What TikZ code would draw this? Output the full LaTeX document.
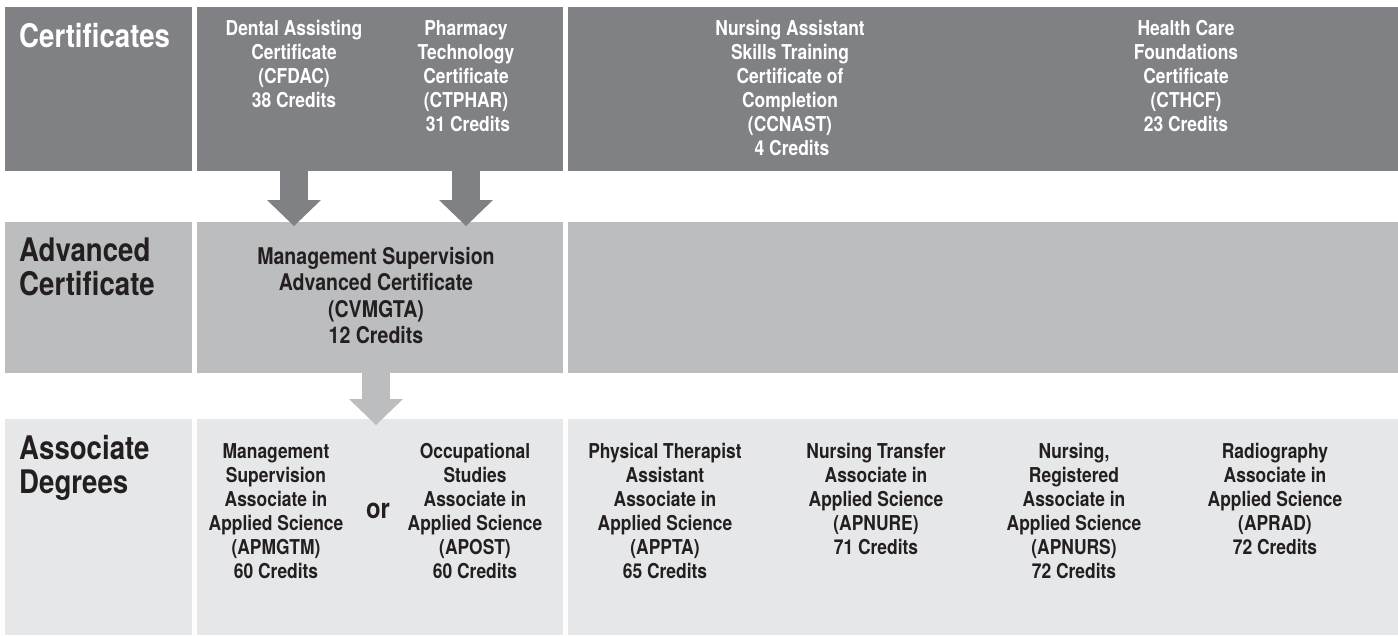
\documentclass[tikz,border=0pt]{standalone}
\usepackage{fontspec}
\setmainfont{TeX Gyre Heros}[FakeStretch=0.85]
\usetikzlibrary{arrows.meta,calc}
\definecolor{dark}{RGB}{128,129,133}
\definecolor{mid}{RGB}{188,189,191}
\definecolor{light}{RGB}{230,231,232}
\definecolor{ink}{RGB}{35,31,32}
\begin{document}
\begin{tikzpicture}[x=1pt,y=-1pt,
  box/.style={rectangle, inner sep=0pt, outer sep=0pt, draw=none},
  hdr/.style={anchor=north west, inner sep=0pt, align=left, font=\bfseries\fontsize{32.5}{34}\selectfont},
  txt/.style={anchor=north, inner sep=0pt, align=center, font=\bfseries\fontsize{20.5}{24}\selectfont},
  advtxt/.style={anchor=north, inner sep=0pt, align=center, font=\bfseries\fontsize{23}{26.5}\selectfont},
  barrow/.style={line width=28pt, -{Triangle[width=54pt,length=26pt,line width=0pt]}},
]
\useasboundingbox (0,0) rectangle (1398,635);
\fill[white] (0,0) rectangle (1398,635);
% row 1
\node[box, fill=dark, minimum width=187pt, minimum height=164pt] (c1) at (98.5,89) {};
\node[box, fill=dark, minimum width=366pt, minimum height=164pt] (c2) at (380,89) {};
\node[box, fill=dark, minimum width=830pt, minimum height=164pt] (c3) at (983,89) {};
% row 2
\node[box, fill=mid, minimum width=187pt, minimum height=151pt] (a1) at (98.5,297.5) {};
\node[box, fill=mid, minimum width=366pt, minimum height=151pt] (a2) at (380,297.5) {};
\node[box, fill=mid, minimum width=830pt, minimum height=151pt] (a3) at (983,297.5) {};
% row 3
\node[box, fill=light, minimum width=187pt, minimum height=216pt] (b1) at (98.5,527) {};
\node[box, fill=light, minimum width=366pt, minimum height=216pt] (b2) at (380,527) {};
\node[box, fill=light, minimum width=830pt, minimum height=216pt] (b3) at (983,527) {};
% texts row 1
\node[hdr, white] (hcert) at (19,23) {Certificates};
\node[txt, white] (dental) at (294,20) {Dental Assisting\\Certificate\\(CFDAC)\\38 Credits};
\node[txt, white] (pharm) at (466,20) {Pharmacy\\Technology\\Certificate\\(CTPHAR)\\\hspace*{4pt}31 Credits};
\node[txt, white] (nurse) at (790,20) {Nursing Assistant\\Skills Training\\Certificate of\\Completion\\(CCNAST)\\\hspace*{4pt}4 Credits};
\node[txt, white] (health) at (1186,20) {Health Care\\Foundations\\Certificate\\(CTHCF)\\23 Credits};
% texts row 2
\node[hdr, ink] (hadv) at (19,238) {Advanced\\Certificate};
\node[advtxt, ink] (mgmtadv) at (376,247) {Management Supervision\\Advanced Certificate\\(CVMGTA)\\12 Credits};
% texts row 3
\node[hdr, ink] (hassoc) at (19,435) {Associate\\Degrees};
\node[txt, ink] (apmgtm) at (276,443) {Management\\Supervision\\Associate in\\Applied Science\\(APMGTM)\\60 Credits};
\node[anchor=base, inner sep=0pt, ink, font=\bfseries\fontsize{28}{30}\selectfont] (or) at (378,518) {or};
\node[txt, ink] (apost) at (475,443) {Occupational\\Studies\\Associate in\\Applied Science\\(APOST)\\60 Credits};
\node[txt, ink] (appta) at (665,443) {Physical Therapist\\Assistant\\Associate in\\Applied Science\\(APPTA)\\65 Credits};
\node[txt, ink] (apnure) at (876,443) {Nursing Transfer\\Associate in\\Applied Science\\(APNURE)\\71 Credits};
\node[txt, ink] (apnurs) at (1074,443) {Nursing,\\Registered\\Associate in\\Applied Science\\(APNURS)\\72 Credits};
\node[txt, ink] (aprad) at (1275,443) {Radiography\\Associate in\\Applied Science\\(APRAD)\\72 Credits};
% arrows
\draw[barrow, draw=dark, fill=dark] ($(c2.south -| dental.center)+(0,-1)$) -- ($(a2.north -| dental.center)+(0,4)$);
\draw[barrow, draw=dark, fill=dark] ($(c2.south -| pharm.center)+(0,-1)$) -- ($(a2.north -| pharm.center)+(0,4)$);
\draw[barrow, draw=mid, fill=mid] ($(a2.south -| mgmtadv.center)+(0,-1)$) -- ($(b2.north -| mgmtadv.center)+(0,6)$);
\end{tikzpicture}
\end{document}
